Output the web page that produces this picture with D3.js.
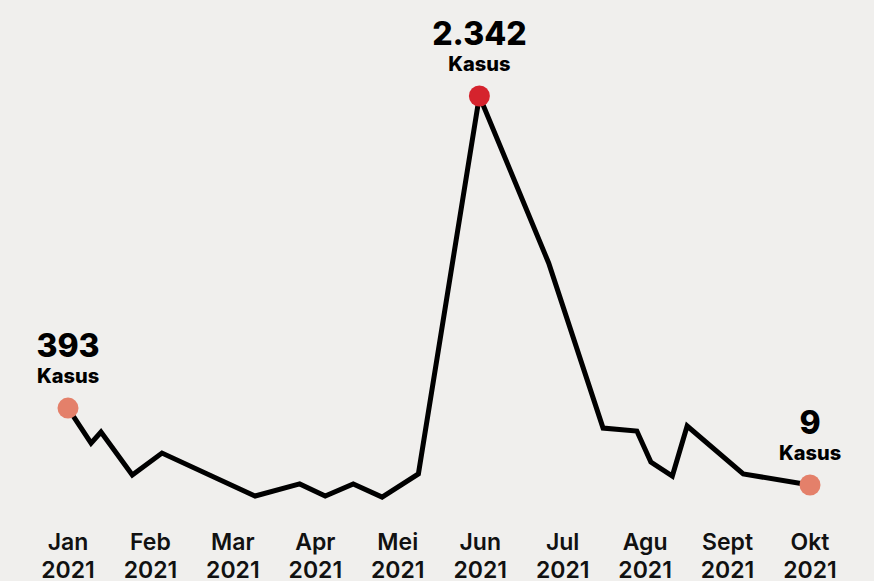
<!DOCTYPE html>
<html>
<head>
<meta charset="utf-8">
<script src="https://cdn.jsdelivr.net/npm/d3@7/dist/d3.min.js"></script>
<style>
  html, body { margin: 0; padding: 0; background: #f0efed; }
  svg { display: block; }
</style>
</head>
<body>
<div id="chart"></div>
<script>
// month labels along the bottom
var months = ["Jan", "Feb", "Mar", "Apr", "Mei", "Jun", "Jul", "Agu", "Sept", "Okt"];
var year = "2021";

// position of each reading, in months from the start of January
var monthPos = [0, 0.28, 0.40, 0.78, 1.14, 2.27, 2.81, 3.12, 3.46, 3.81,
  4.25, 4.99, 5.83, 6.49, 6.90, 7.07, 7.33, 7.51, 8.19, 9.0];
// cases
var cases = [533, 330, 394, 145, 272, 23, 93, 23, 93, 17,
  151, 2342, 1374, 417, 400, 220, 139, 429, 151, 87];

// highlighted points: index into the series, label, colour
var calloutIndex = [0, 11, 19];
var calloutText = ["393", "2.342", "9"];
var calloutColor = ["#e4806a", "#d5232d", "#e4806a"];

(function () {
  var width = 874;
  var height = 581;

  var svg = d3.select("#chart").append("svg")
    .attr("width", width)
    .attr("height", height)
    .attr("viewBox", "0 0 " + width + " " + height);

  svg.append("rect")
    .attr("width", width)
    .attr("height", height)
    .attr("fill", "#f0efed");

  var x = d3.scaleLinear()
    .domain([0, months.length - 1])
    .range([68, 810]);

  var y = d3.scaleLinear()
    .domain([0, 2342])
    .range([500, 96]);

  var points = monthPos.map(function (m, i) {
    return {m: m, v: cases[i]};
  });

  var line = d3.line()
    .x(function (d) { return x(d.m); })
    .y(function (d) { return y(d.v); });

  svg.append("path")
    .datum(points)
    .attr("d", line)
    .attr("fill", "none")
    .attr("stroke", "#000")
    .attr("stroke-width", 5)
    .attr("stroke-linejoin", "miter")
    .attr("stroke-linecap", "butt");

  var font = "Inter, 'Open Sans', sans-serif";

  var axis = svg.append("g")
    .selectAll("text")
    .data(months)
    .join("text")
    .attr("x", function (d, i) { return x(i); })
    .attr("y", 550)
    .attr("text-anchor", "middle")
    .attr("font-family", font)
    .attr("font-weight", 600)
    .attr("font-size", 23)
    .attr("fill", "#111");

  axis.append("tspan")
    .attr("x", function (d, i) { return x(i); })
    .text(function (d) { return d; });

  axis.append("tspan")
    .attr("x", function (d, i) { return x(i); })
    .attr("dy", 28)
    .text(year);

  var callouts = svg.append("g")
    .selectAll("g")
    .data(calloutIndex)
    .join("g")
    .attr("transform", function (d) {
      return "translate(" + x(points[d].m) + "," + y(points[d].v) + ")";
    });

  callouts.append("circle")
    .attr("r", 10.5)
    .attr("fill", function (d, i) { return calloutColor[i]; });

  callouts.append("text")
    .attr("y", -51)
    .attr("text-anchor", "middle")
    .attr("font-family", font)
    .attr("font-weight", 800)
    .attr("font-size", 32)
    .attr("fill", "#000")
    .text(function (d, i) { return calloutText[i]; });

  callouts.append("text")
    .attr("y", -25)
    .attr("text-anchor", "middle")
    .attr("font-family", font)
    .attr("font-weight", 800)
    .attr("font-size", 20)
    .attr("fill", "#000")
    .text("Kasus");
}());
</script>
</body>
</html>
